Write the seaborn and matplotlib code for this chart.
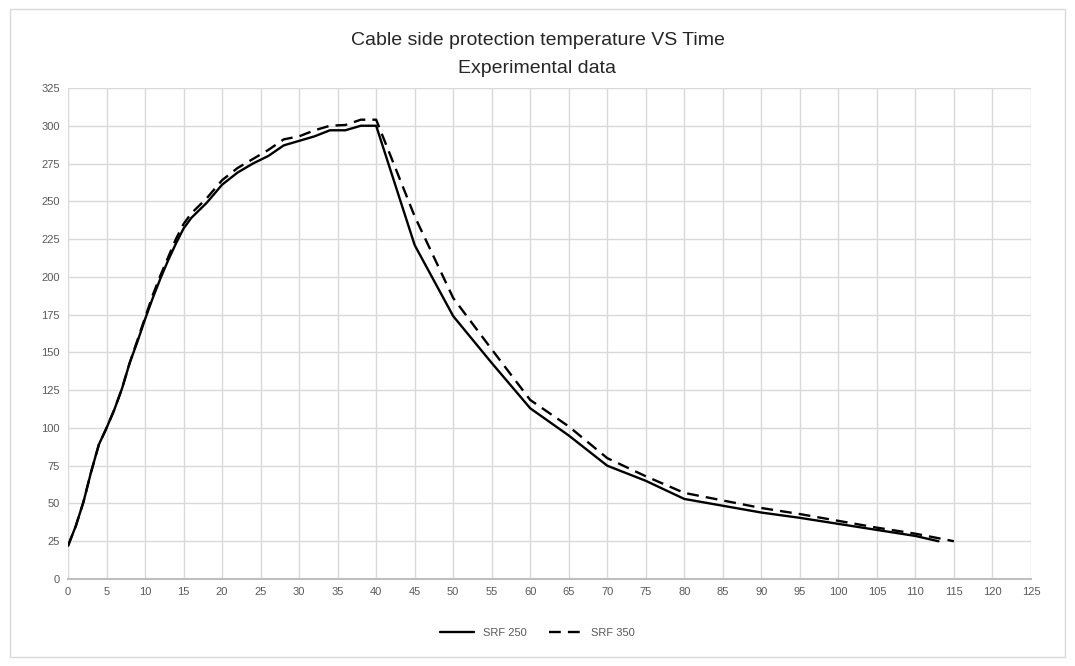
import matplotlib
matplotlib.use("Agg")
import matplotlib.pyplot as plt
import matplotlib.patches as mpatches
import seaborn as sns
import pandas as pd

series_names = ["SRF 250", "SRF 350"]

time_250 = [0, 1, 2, 3, 4, 5, 6, 7, 8, 9, 10, 11, 12, 13, 14, 15, 16, 18, 20, 22, 24, 26, 28, 30,
            32, 34, 36, 38, 40, 45, 50, 55, 60, 65, 70, 75, 80, 85, 90, 95, 100, 105, 110, 113]
temp_250 = [22, 35, 51, 71, 89, 100, 112, 126, 143, 157, 172, 186, 199, 211, 222, 232, 239, 249, 261, 269, 275, 280, 287, 290,
            293, 297, 297, 300, 300, 221, 174, 143, 113, 95, 75, 65, 53, 48.5, 44, 40.5, 36.5, 32.5, 28.5, 25]

time_350 = [0, 1, 2, 3, 4, 5, 6, 7, 8, 9, 10, 11, 12, 13, 14, 15, 16, 18, 20, 22, 24, 26, 28, 30,
            32, 34, 36, 38, 40, 45, 50, 55, 60, 65, 70, 75, 80, 85, 90, 95, 100, 105, 110, 115]
temp_350 = [22, 35, 51, 71, 89, 100, 112, 126, 143, 158, 173, 188, 201, 213, 225, 235, 242, 252, 264, 272, 278, 284, 291, 293,
            297, 300, 300.5, 304, 304, 240, 186, 152, 118.5, 101, 80, 68, 57, 52, 47, 43, 38.5, 34, 30, 25]

x_ticks = list(range(0, 126, 5))
y_ticks = list(range(0, 326, 25))

df = pd.concat([
    pd.DataFrame({"Time": time_250, "Temp": temp_250, "Series": series_names[0]}),
    pd.DataFrame({"Time": time_350, "Temp": temp_350, "Series": series_names[1]}),
])

sns.set_theme(style="white")
plt.rcParams["font.family"] = ["Liberation Sans Narrow", "Liberation Sans", "DejaVu Sans"]

fig = plt.figure(figsize=(10.75, 6.66), dpi=100)
ax = fig.add_axes([0.0633, 0.1306, 0.8957, 0.7373])

sns.lineplot(data=df, x="Time", y="Temp", hue="Series", style="Series",
             palette={series_names[0]: "black", series_names[1]: "black"},
             dashes={series_names[0]: "", series_names[1]: (5, 3)},
             linewidth=1.7, ax=ax, legend=False, sort=False, estimator=None)

ax.set_xlim(0, 125)
ax.set_ylim(0, 325)
ax.set_xticks(x_ticks)
ax.set_yticks(y_ticks)
ax.set_xticklabels([str(v) for v in x_ticks])
ax.set_yticklabels([str(v) for v in y_ticks])
ax.grid(True, color="#d9d9d9", linewidth=1)
ax.set_axisbelow(True)
for s in ["top", "right", "left"]:
    ax.spines[s].set_visible(False)
ax.spines["bottom"].set_color("#bfbfbf")
ax.spines["bottom"].set_linewidth(1.5)
ax.tick_params(axis="both", length=0, labelsize=8, labelcolor="#595959", pad=6)
ax.set_xlabel("")
ax.set_ylabel("")

fig.text(0.5, 0.939, "Cable side protection temperature VS Time", ha="center", va="center",
         fontsize=14, color="#262626")
fig.text(0.5, 0.897, "Experimental data", ha="center", va="center",
         fontsize=14, color="#262626")

handles = [plt.Line2D([], [], color="black", linewidth=1.7),
           plt.Line2D([], [], color="black", linewidth=1.7, dashes=(5, 3))]
fig.legend(handles, series_names, loc="center", bbox_to_anchor=(0.5, 0.05), ncol=2,
           frameon=False, fontsize=8, labelcolor="#595959", handlelength=3, columnspacing=2)

fig.patches.append(mpatches.Rectangle((0.009, 0.013), 0.982, 0.974, transform=fig.transFigure,
                                      fill=False, edgecolor="#d9d9d9", linewidth=1))

fig.savefig("out.png", dpi=100)
